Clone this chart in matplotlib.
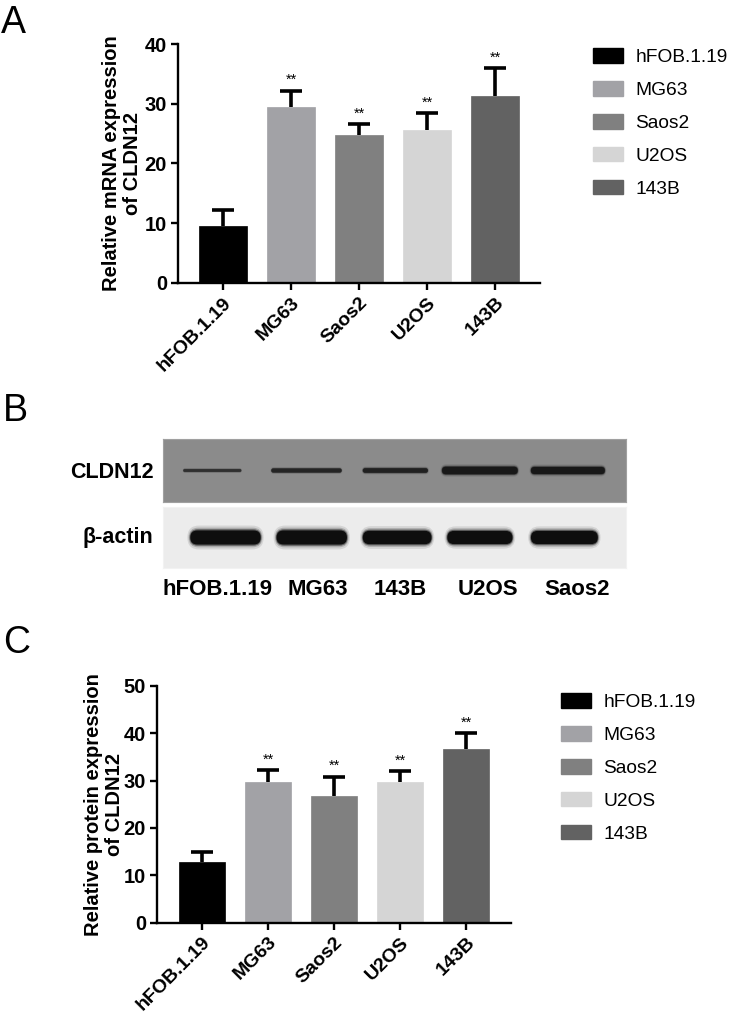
import matplotlib
matplotlib.use("Agg")
import matplotlib.pyplot as plt
from matplotlib.patches import Patch, FancyBboxPatch

plt.rcParams['font.family'] = ['Liberation Sans', 'DejaVu Sans']

# ---------------- data ----------------
cells = ["hFOB.1.19", "MG63", "Saos2", "U2OS", "143B"]
colors = ["#000000", "#a2a2a6", "#808080", "#d5d5d5", "#626262"]

mrna_mean = [9.6, 29.5, 24.7, 25.6, 31.3]
mrna_err = [2.6, 2.7, 1.9, 2.8, 4.6]
mrna_sig = ["", "**", "**", "**", "**"]

prot_mean = [12.9, 29.7, 26.8, 29.7, 36.6]
prot_err = [2.0, 2.5, 4.0, 2.2, 3.4]
prot_sig = ["", "**", "**", "**", "**"]

blot_lanes = ["hFOB.1.19", "MG63", "143B", "U2OS", "Saos2"]
blot_rows = ["CLDN12", "\u03b2-actin"]
# relative band thickness / darkness per lane
cldn12_band = [0.38, 0.55, 0.62, 1.0, 0.95]
cldn12_dark = [0.65, 0.8, 0.85, 1.0, 1.0]
actin_band = [1.0, 1.0, 0.95, 0.93, 0.93]
actin_dark = [1.0, 1.0, 1.0, 1.0, 1.0]

W, H = 735, 1013
fig = plt.figure(figsize=(W / 100, H / 100), dpi=100)


def fx(px):
    return px / W


def fy(py):
    return 1 - py / H


def bar_panel(left, right, top, bottom, ymax, ystep, means, errs, sig, xl, ylabel,
              ylab_x, leg_x, leg_y):
    ax = fig.add_axes([fx(left), fy(bottom), fx(right) - fx(left), fy(top) - fy(bottom)])
    x = list(range(len(cells)))
    ax.bar(x, means, width=0.70, color=colors, edgecolor=colors, linewidth=0.5, zorder=2)
    _, caps, _ = ax.errorbar(x, means, yerr=[[0] * len(errs), errs], fmt='none',
                             ecolor='black', elinewidth=2.6, capsize=7.8, capthick=2.6,
                             zorder=3)
    caps[0].set_visible(False)
    for xi, m, e, s in zip(x, means, errs, sig):
        if s:
            ax.annotate(s, (xi, m + e), xytext=(0, 2.5), textcoords='offset points',
                        ha='center', va='bottom', fontsize=10.5)
    ax.set_xlim(*xl)
    ax.set_ylim(0, ymax)
    ax.set_yticks(range(0, ymax + 1, ystep))
    ax.set_xticks(x)
    ax.set_xticklabels(cells, rotation=45, ha='right', va='top', rotation_mode='anchor',
                       fontsize=14, fontweight='bold')
    for lab in ax.get_yticklabels():
        lab.set_fontweight('bold')
        lab.set_fontsize(14.5)
    for sp in ['top', 'right']:
        ax.spines[sp].set_visible(False)
    for sp in ['left', 'bottom']:
        ax.spines[sp].set_linewidth(1.7)
    ax.tick_params(axis='both', width=1.7, length=5, pad=3)
    fig.text(fx(ylab_x), fy((top + bottom) / 2), ylabel, rotation=90, ha='center',
             va='center', fontsize=14.5, fontweight='bold', multialignment='center',
             linespacing=1.15)
    handles = [Patch(facecolor=c, edgecolor=c) for c in colors]
    fig.legend(handles, cells, loc='upper left', bbox_to_anchor=(fx(leg_x), fy(leg_y)),
               frameon=False, fontsize=13.8, handlelength=1.55, handleheight=0.8,
               handletextpad=0.65, labelspacing=0.78, borderpad=0, borderaxespad=0)
    return ax


# Panel A
bar_panel(178, 540, 44, 283, 40, 10, mrna_mean, mrna_err, mrna_sig,
          (-0.66, 4.66), "Relative mRNA expression\nof CLDN12", 122, 593, 48)
# Panel C
bar_panel(157, 511, 685.7, 922.7, 50, 10, prot_mean, prot_err, prot_sig,
          (-0.68, 4.68), "Relative protein expression\nof CLDN12", 104, 561, 693)

# Panel letters
fig.text(fx(1), fy(5), "A", fontsize=27, va='top', ha='left')
fig.text(fx(3), fy(393), "B", fontsize=27, va='top', ha='left')
fig.text(fx(3), fy(625), "C", fontsize=27, va='top', ha='left')

# Panel B : western blot
STRIP_L, STRIP_R = 163, 626
XU = 5.26  # lane units across the strip
PX_PER_U = (STRIP_R - STRIP_L) / XU


def blot_strip(top, bottom, bg, edge, strengths, darks, base_h, centers, halfw, ink):
    ax = fig.add_axes([fx(STRIP_L), fy(bottom), fx(STRIP_R) - fx(STRIP_L),
                       fy(top) - fy(bottom)])
    hy = (bottom - top) / PX_PER_U
    ax.set_xlim(0, XU)
    ax.set_ylim(0, hy)
    ax.set_facecolor(bg)
    for sp in ax.spines.values():
        sp.set_color(edge)
        sp.set_linewidth(0.8)
    ax.set_xticks([])
    ax.set_yticks([])
    for c, s, d, hw in zip(centers, strengths, darks, halfw):
        h = base_h * s
        for k, a in [(1.7, 0.10), (1.4, 0.2), (1.18, 0.45), (1.0, 0.9)]:
            hh = h * k
            ww = 2 * hw + (k - 1) * h * 0.6
            ax.add_patch(FancyBboxPatch((c - ww / 2, hy / 2 - hh / 2), ww, hh,
                                        boxstyle="round,pad=0,rounding_size=%f" % (hh / 2),
                                        facecolor=ink, edgecolor='none', alpha=a * d))
    return ax


cl_centers = [0.56, 1.63, 2.64, 3.6, 4.6]
cl_halfw = [0.33, 0.40, 0.37, 0.43, 0.42]
blot_strip(439, 502, '#8b8b8b', '#a0a0a0', cldn12_band, cldn12_dark, 0.085, cl_centers,
           cl_halfw, '#141414')

ac_centers = [0.71, 1.69, 2.66, 3.6, 4.56]
ac_halfw = [0.40, 0.40, 0.39, 0.37, 0.38]
blot_strip(507, 568, '#ececec', '#f2f2f2', actin_band, actin_dark, 0.16, ac_centers,
           ac_halfw, '#050505')

fig.text(fx(154), fy(472), blot_rows[0], ha='right', va='center', fontsize=15.5,
         fontweight='bold')
fig.text(fx(153), fy(538), blot_rows[1], ha='right', va='center', fontsize=15.5,
         fontweight='bold')
lab_x = [218, 318, 400, 488, 577]
for lx, name in zip(lab_x, blot_lanes):
    fig.text(fx(lx), fy(589), name, ha='center', va='center', fontsize=16,
             fontweight='bold')

fig.savefig("out.png", dpi=100)
